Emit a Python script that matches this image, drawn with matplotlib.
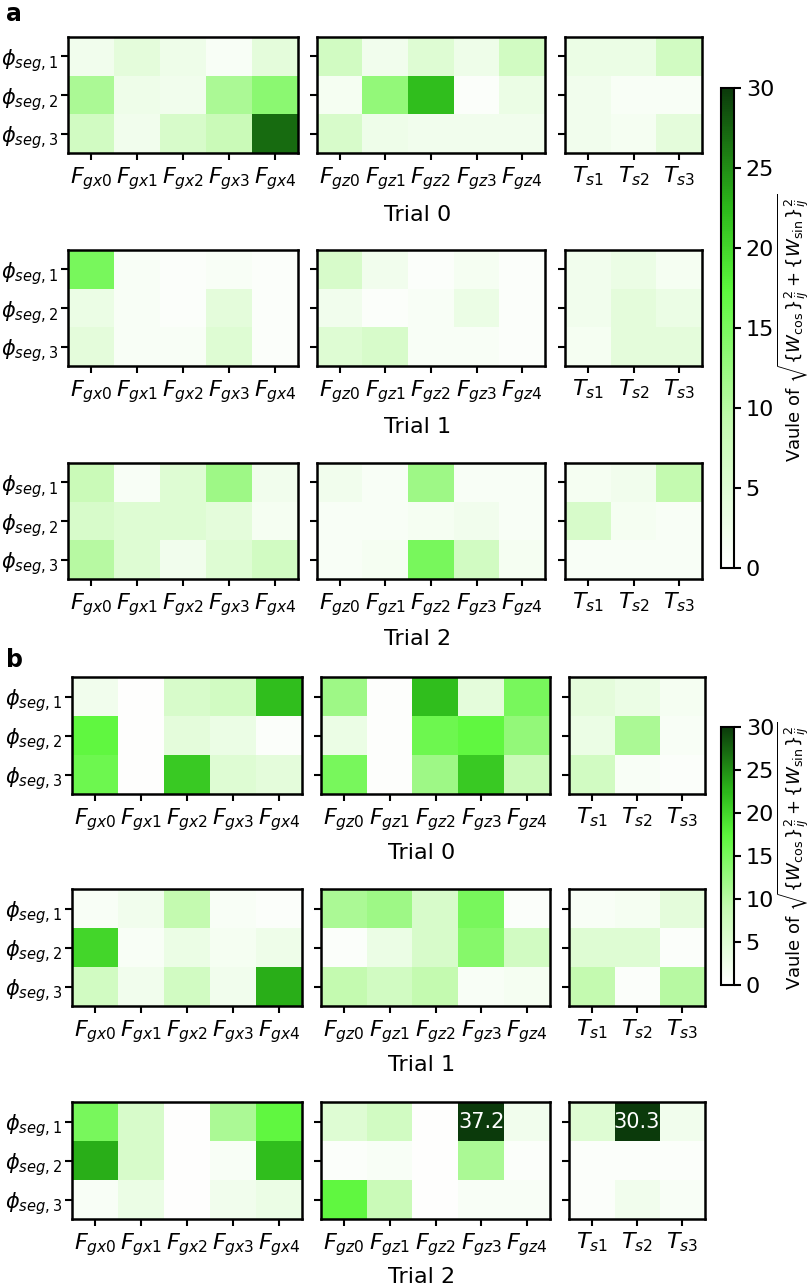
import numpy as np
import matplotlib.pyplot as plt
from matplotlib.colors import LinearSegmentedColormap

# tick labels
gx_labels = [r'$F_{gx%d}$' % i for i in range(5)]
gz_labels = [r'$F_{gz%d}$' % i for i in range(5)]
ts_labels = [r'$T_{s%d}$' % i for i in range(1, 4)]
seg_labels = [r'$\phi_{seg,%d}$' % i for i in range(1, 4)]
trial_names = ['Trial 0', 'Trial 1', 'Trial 2']

# panel a values, one 3x5 / 3x3 block per trial
a_gx = [
    [[2, 4, 2.5, 1, 4], [11, 2.5, 2, 11, 13.5], [7, 2, 6, 8, 27]],
    [[15, 1, 0.5, 1, 0.5], [3, 1, 0.5, 4, 0.5], [4, 1, 1, 5, 0.5]],
    [[8, 1, 5, 12, 2], [6, 5, 5, 4, 1.5], [10, 5, 2, 5, 7]],
]
a_gz = [
    [[7, 2, 5, 2.5, 7], [1.5, 13, 22, 0.5, 3], [6, 2.5, 2, 2, 2]],
    [[6, 2, 0.5, 1.5, 0.5], [2, 0.5, 1, 3, 0.5], [5, 6, 1, 1, 0.5]],
    [[2, 1, 12, 1, 1], [1, 1, 1.5, 2, 1], [1, 1.5, 15, 7, 1.5]],
]
a_ts = [
    [[3, 3, 7], [2, 1, 1], [2, 1.5, 4]],
    [[2, 3, 1.5], [2, 4, 3], [1.5, 4, 4]],
    [[1.5, 2, 9], [6, 1.5, 1], [1, 1, 1]],
]

# panel b values
b_gx = [
    [[2, 0.2, 6, 7, 22], [17, 0.2, 4, 3, 0.5], [16, 0.2, 21, 5, 4]],
    [[1, 2, 9, 1, 0.5], [20, 1, 3, 1.5, 2.5], [7, 2, 7, 2, 23]],
    [[15, 6, 0.2, 11, 17], [23, 6, 0.2, 1, 22], [1, 3, 0.2, 2, 3]],
]
b_gz = [
    [[12, 0.3, 22, 4, 15], [3, 0.3, 16, 17, 13], [15, 0.3, 12, 21, 8]],
    [[11, 12, 6, 15, 0.5], [0.5, 3, 6, 14, 7], [9, 7, 9, 1, 1.5]],
    [[5, 7, 0.2, 37.2, 2], [0.5, 1, 0.2, 11, 0.5], [17, 8, 0.2, 1, 1]],
]
b_ts = [
    [[4, 3, 1.5], [3, 11, 1], [7, 1, 0.5]],
    [[1, 1.5, 4], [5, 5, 0.5], [9, 0.5, 10]],
    [[5, 30.3, 2], [0.5, 0.5, 0.5], [0.5, 2, 1]],
]

cmap = LinearSegmentedColormap.from_list(
    'wg', [(0, '#ffffff'), (0.3, '#c4fab0'), (0.58, '#5cf73c'),
           (0.75, '#2cb81a'), (1, '#0b3a0b')])
VMAX = 30

W, H = 810, 1287
fig = plt.figure(figsize=(W / 100, H / 100), dpi=100)


def px_axes(x, y, w, h):
    # pixel box (top-left origin) -> figure axes
    return fig.add_axes([x / W, 1 - (y + h) / H, w / W, h / H])


def draw_panel(gx, gz, ts, cols, row_tops, row_h, label_ys, label_x, cbar_box, letter, letter_y):
    blocks = [(gx, gx_labels), (gz, gz_labels), (ts, ts_labels)]
    for t in range(3):
        for k, (data, xl) in enumerate(blocks):
            x0, w = cols[k]
            ax = px_axes(x0, row_tops[t], w, row_h)
            vals = np.array(data[t], dtype=float)
            im = ax.imshow(vals, cmap=cmap, vmin=0, vmax=VMAX, aspect='auto')
            ax.set_xticks(range(vals.shape[1]))
            ax.set_xticklabels(xl, fontsize=16)
            ax.set_yticks(range(3))
            if k == 0:
                ax.set_yticklabels(seg_labels, fontsize=15)
            else:
                ax.set_yticklabels([])
            ax.tick_params(length=5, width=1.5)
            ax.tick_params(axis='y', pad=2)
            for s in ax.spines.values():
                s.set_linewidth(1.8)
            # annotate values above the colour range
            for i in range(vals.shape[0]):
                for j in range(vals.shape[1]):
                    if vals[i, j] > VMAX:
                        ax.text(j, i, '%.1f' % vals[i, j], ha='center', va='center',
                                color='white', fontsize=15)
        fig.text(label_x / W, 1 - label_ys[t] / H, trial_names[t], ha='center', va='center', fontsize=16)
    cax = px_axes(*cbar_box)
    cb = fig.colorbar(im, cax=cax, ticks=[0, 5, 10, 15, 20, 25, 30])
    cb.ax.tick_params(labelsize=16, length=5, width=1.5)
    cb.outline.set_linewidth(1.5)
    cb.set_label(r'Vaule of $\sqrt{\{W_{\cos}\}_{ij}^2+\{W_{\sin}\}_{ij}^2}$', fontsize=13, labelpad=1)
    fig.text(6 / W, 1 - letter_y / H, letter, fontsize=17, fontweight='bold', va='center')


draw_panel(a_gx, a_gz, a_ts,
           cols=[(68, 230), (317, 228), (565, 137)],
           row_tops=[37, 250, 463], row_h=116,
           label_ys=[215, 427, 639], label_x=418,
           cbar_box=(721, 88, 13, 480), letter='a', letter_y=14)

draw_panel(b_gx, b_gz, b_ts,
           cols=[(72, 230), (321, 229), (569, 136)],
           row_tops=[677, 889, 1102], row_h=117,
           label_ys=[853, 1065, 1277], label_x=422,
           cbar_box=(721, 727, 13, 258), letter='b', letter_y=660)

fig.savefig('out.png', dpi=100)
